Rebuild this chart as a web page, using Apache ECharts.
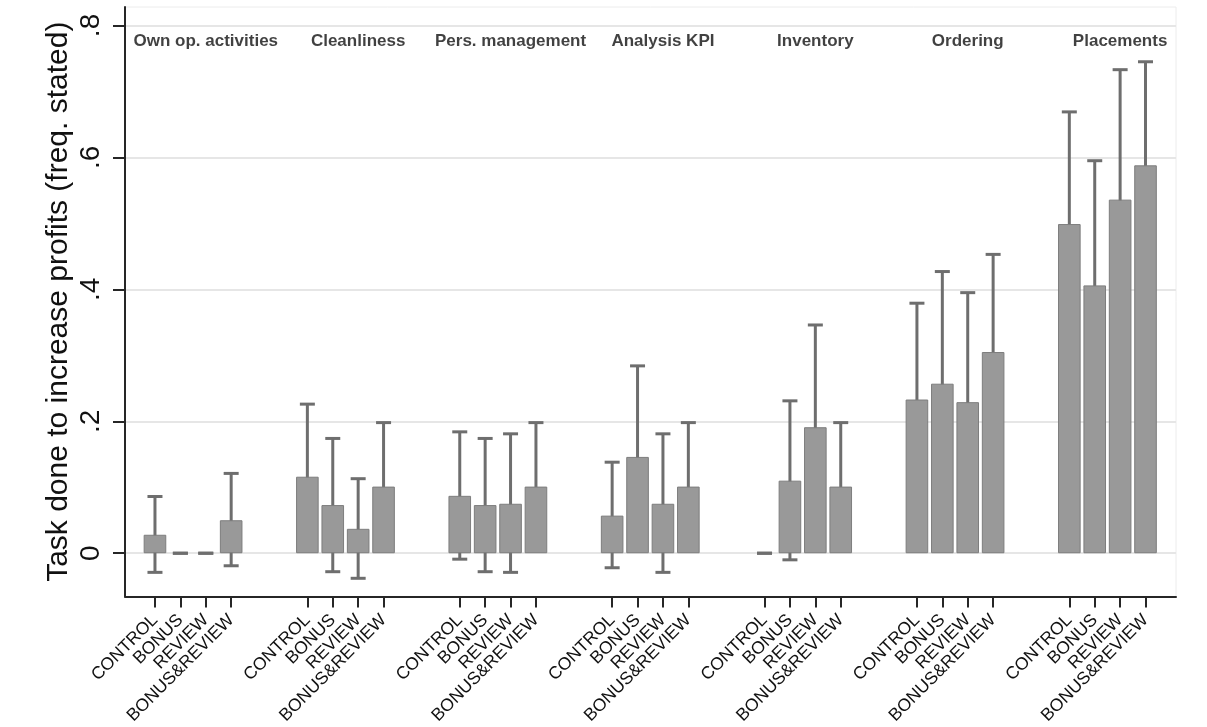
<!DOCTYPE html>
<html>
<head>
<meta charset="utf-8">
<title>Task done to increase profits</title>
<script src="https://cdn.jsdelivr.net/npm/echarts@6/dist/echarts.min.js"></script>
<style>
  html, body { margin: 0; padding: 0; background: #ffffff; }
  #chart { width: 1207px; height: 727px; }
</style>
</head>
<body>
<div id="chart"></div>
<script>
// Task categories (panels) and treatment arms
const tasks = ['Own op. activities', 'Cleanliness', 'Pers. management', 'Analysis KPI', 'Inventory', 'Ordering', 'Placements'];
const arms = ['CONTROL', 'BONUS', 'REVIEW', 'BONUS&REVIEW'];

// Share of stores stating the task, by arm (one value per task)
const controlMean     = [0.028, 0.116, 0.087, 0.057, 0.000, 0.233, 0.499];
const bonusMean       = [0.000, 0.073, 0.073, 0.146, 0.110, 0.257, 0.406];
const reviewMean      = [0.000, 0.037, 0.075, 0.075, 0.191, 0.229, 0.536];
const bonusReviewMean = [0.050, 0.101, 0.101, 0.101, 0.101, 0.305, 0.588];

// 95% confidence bounds, by arm
const controlLow      = [-0.029, 0.007, -0.009, -0.022, 0.000, 0.090, 0.329];
const controlHigh     = [0.086, 0.226, 0.184, 0.138, 0.000, 0.379, 0.669];
const bonusLow        = [0.000, -0.028, -0.028, 0.011, -0.010, 0.090, 0.219];
const bonusHigh       = [0.000, 0.174, 0.174, 0.284, 0.231, 0.427, 0.595];
const reviewLow       = [0.000, -0.038, -0.029, -0.029, 0.037, 0.065, 0.342];
const reviewHigh      = [0.000, 0.113, 0.181, 0.181, 0.346, 0.395, 0.733];
const bonusReviewLow  = [-0.019, 0.005, 0.005, 0.005, 0.005, 0.160, 0.432];
const bonusReviewHigh = [0.121, 0.198, 0.198, 0.198, 0.198, 0.453, 0.745];

// Y axis tick values and labels
const yTicks = [0, 0.2, 0.4, 0.6, 0.8];
const yTickLabels = ['0', '.2', '.4', '.6', '.8'];

const means = [controlMean, bonusMean, reviewMean, bonusReviewMean];
const lows = [controlLow, bonusLow, reviewLow, bonusReviewLow];
const highs = [controlHigh, bonusHigh, reviewHigh, bonusReviewHigh];

// Each panel takes 4 bar slots plus a 2-slot gap on the x scale
const SLOTS_PER_TASK = 6;
const slotOf = (t, a) => t * SLOTS_PER_TASK + a;

const barData = [];
const errData = [];
const tickPos = [];
const tickName = {};
tasks.forEach((task, t) => {
  arms.forEach((arm, a) => {
    const x = slotOf(t, a);
    const m = means[a][t];
    barData.push({
      value: [x, m],
      itemStyle: m === 0 ? { borderWidth: 0 } : undefined
    });
    errData.push([x, lows[a][t], highs[a][t]]);
    tickPos.push(x);
    tickName[x] = arm;
  });
});
// Panel headings sit over the middle of each group of bars
const headingY = 0.776;
const headingData = tasks.map((task, t) => ({ value: [slotOf(t, 2), headingY], name: task }));

const font = "'Liberation Sans', Arial, Helvetica, sans-serif";
const errColor = '#6e6e6e';
const CAP_HALF = 7.5;

const chart = echarts.init(document.getElementById('chart'), null, { renderer: 'canvas' });
chart.setOption({
  animation: false,
  backgroundColor: '#ffffff',
  textStyle: { fontFamily: font },
  grid: {
    left: 125, right: 31, top: 7, bottom: 130,
    show: true, borderColor: '#ececec', borderWidth: 1, backgroundColor: 'transparent'
  },
  xAxis: {
    type: 'value',
    min: -1.18,
    max: 40.2,
    axisLine: { show: true, onZero: false, lineStyle: { color: '#262626', width: 2 } },
    axisTick: { show: true, customValues: tickPos, length: 11, lineStyle: { color: '#262626', width: 2 } },
    axisLabel: {
      customValues: tickPos,
      rotate: 45,
      margin: 21,
      fontSize: 17.5,
      color: '#111111',
      fontFamily: font,
      formatter: v => tickName[Math.round(v)] || ''
    },
    splitLine: { show: false }
  },
  yAxis: {
    type: 'value',
    min: -0.0655,
    max: 0.828,
    name: 'Task done to increase profits (freq. stated)',
    nameLocation: 'middle',
    nameRotate: 90,
    nameGap: 51,
    nameMoveOverlap: false,
    nameTextStyle: { fontSize: 30, color: '#111111', fontFamily: font },
    axisLine: { show: true, onZero: false, lineStyle: { color: '#262626', width: 2 } },
    axisTick: { show: true, customValues: yTicks, length: 12, lineStyle: { color: '#262626', width: 2 } },
    axisLabel: {
      customValues: yTicks,
      rotate: 90,
      margin: 20,
      fontSize: 28,
      color: '#111111',
      fontFamily: font,
      formatter: v => {
        const i = yTicks.findIndex(t => Math.abs(t - v) < 1e-9);
        return i >= 0 ? yTickLabels[i] : '';
      }
    },
    splitLine: { show: true, lineStyle: { color: '#e6e6e6', width: 2 } }
  },
  series: [
    {
      type: 'bar',
      data: barData,
      barWidth: 22.6,
      itemStyle: { color: '#999999', borderColor: '#7d7d7d', borderWidth: 1 },
      silent: true
    },
    {
      type: 'custom',
      data: errData,
      encode: { x: 0, y: [1, 2] },
      clip: false,
      silent: true,
      renderItem: (params, api) => {
        const x = api.value(0);
        const top = api.coord([x, api.value(2)]);
        const bot = api.coord([x, api.value(1)]);
        const style = { stroke: errColor, lineWidth: 3, fill: null };
        return {
          type: 'group',
          children: [
            { type: 'line', shape: { x1: top[0], y1: top[1], x2: bot[0], y2: bot[1] }, style },
            { type: 'line', shape: { x1: top[0] - CAP_HALF, y1: top[1], x2: top[0] + CAP_HALF, y2: top[1] }, style },
            { type: 'line', shape: { x1: bot[0] - CAP_HALF, y1: bot[1], x2: bot[0] + CAP_HALF, y2: bot[1] }, style }
          ]
        };
      }
    },
    {
      type: 'scatter',
      data: headingData,
      symbolSize: 0,
      silent: true,
      label: {
        show: true,
        position: 'inside',
        formatter: p => p.name,
        fontSize: 17,
        fontWeight: 'bold',
        color: '#111111',
        fontFamily: font
      }
    }
  ]
});
</script>
</body>
</html>
